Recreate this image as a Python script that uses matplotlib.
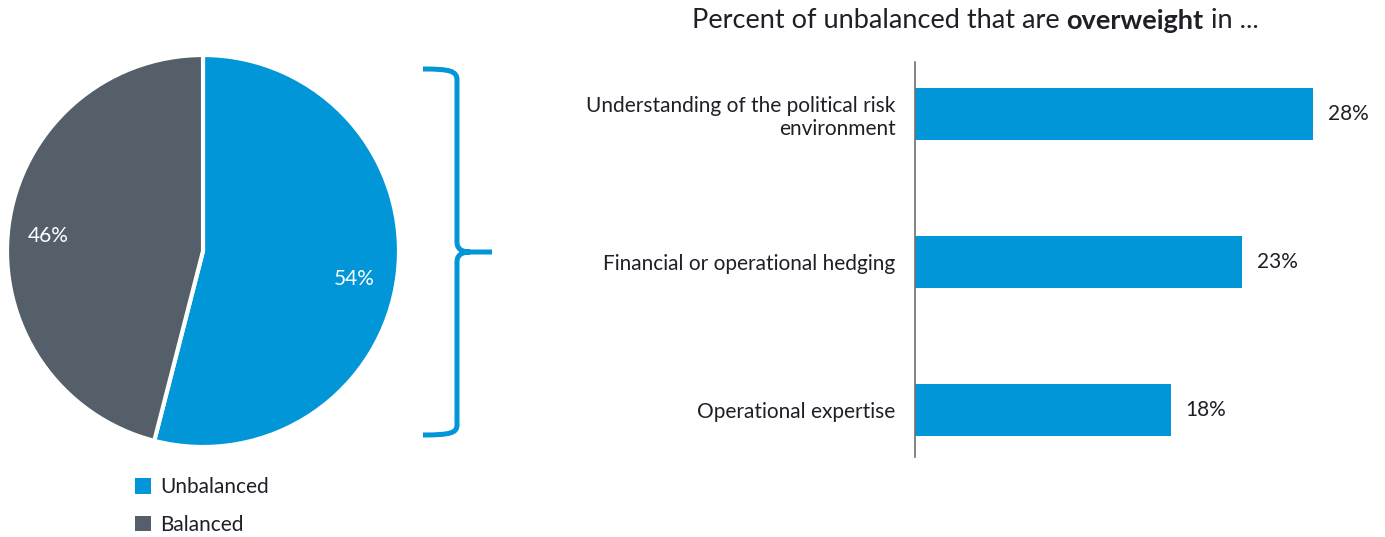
import numpy as np
import matplotlib.pyplot as plt
from matplotlib.path import Path
from matplotlib.patches import PathPatch, Patch

plt.rcParams['font.family'] = ['Lato', 'DejaVu Sans']

# pie data
pie_labels = ['Unbalanced', 'Balanced']
pie_values = [54, 46]

# bar data
bar_labels = ['Understanding of the political risk\nenvironment',
              'Financial or operational hedging',
              'Operational expertise']
bar_values = [28, 23, 18]

BLUE = '#0096d7'
GREY = '#555f6a'
TEXT = '#1f1f28'

W, H = 1385, 537
fig = plt.figure(figsize=(W / 100, H / 100), dpi=100)


def px_box(x0, y0, x1, y1):
    # pixel box (top-left origin) -> figure fraction rect
    return [x0 / W, 1 - y1 / H, (x1 - x0) / W, (y1 - y0) / H]


# ---- pie ----
ax_pie = fig.add_axes(px_box(7, 55, 399, 447))
wedges, _, autotexts = ax_pie.pie(
    pie_values, colors=[BLUE, GREY], startangle=90, counterclock=False,
    autopct='%d%%', pctdistance=0.78,
    wedgeprops=dict(edgecolor='white', linewidth=3),
    textprops=dict(color='white', fontsize=15))
ax_pie.set_xlim(-1.0, 1.0)
ax_pie.set_ylim(-1.0, 1.0)
ax_pie.set_aspect('equal')
for w in wedges:
    w.set_clip_on(False)
autotexts[0].set_position((0.77, -0.145))
autotexts[1].set_position((-0.79, 0.075))

handles = [Patch(facecolor=c, edgecolor='none') for c in [BLUE, GREY]]
fig.legend(handles, pie_labels, loc='upper left',
           bbox_to_anchor=(135 / W, 1 - 477 / H), frameon=False,
           borderpad=0, borderaxespad=0,
           handlelength=0.78, handleheight=0.78, handletextpad=0.45,
           labelspacing=0.85, fontsize=15, labelcolor=TEXT)

# ---- brace ----
ax_bg = fig.add_axes([0, 0, 1, 1], zorder=-1)
ax_bg.set_xlim(0, W)
ax_bg.set_ylim(H, 0)
ax_bg.axis('off')
verts = [(423, 69), (450, 69), (457, 71), (457, 80),
         (457, 242),
         (457, 249), (462, 252), (470, 252),
         (492, 252), (470, 252),
         (462, 252), (457, 255), (457, 262),
         (457, 425),
         (457, 433), (450, 435), (423, 435)]
codes = [Path.MOVETO, Path.CURVE4, Path.CURVE4, Path.CURVE4,
         Path.LINETO,
         Path.CURVE4, Path.CURVE4, Path.CURVE4,
         Path.LINETO, Path.MOVETO,
         Path.CURVE4, Path.CURVE4, Path.CURVE4,
         Path.LINETO,
         Path.CURVE4, Path.CURVE4, Path.CURVE4]
ax_bg.add_patch(PathPatch(Path(verts, codes), facecolor='none',
                          edgecolor=BLUE, linewidth=3.6, capstyle='butt'))

# ---- bars ----
ax_bar = fig.add_axes(px_box(915, 62, 1385, 457))
ypos = np.arange(len(bar_values))
ax_bar.barh(ypos, bar_values, height=0.351, color=BLUE)
ax_bar.set_xlim(0, 470 / 14.2)
ax_bar.set_ylim(2.318, -0.351)
for s in ['top', 'right', 'bottom']:
    ax_bar.spines[s].set_visible(False)
ax_bar.spines['left'].set_color('#707070')
ax_bar.spines['left'].set_linewidth(1.2)
ax_bar.set_xticks([])
ax_bar.set_yticks(ypos)
ax_bar.set_yticklabels(bar_labels, fontsize=15, color=TEXT)
ax_bar.tick_params(axis='y', length=0, pad=14)
for y, v in zip(ypos, bar_values):
    ax_bar.annotate(f'{v}%', (v, y), xytext=(15, 0), textcoords='offset pixels',
                    va='center', ha='left', fontsize=15, color=TEXT)

# ---- title with bold word ----
parts = [('Percent of unbalanced that are ', 'normal'),
         ('overweight', 'bold'),
         (' in ...', 'normal')]
fig.canvas.draw()
renderer = fig.canvas.get_renderer()
texts = []
for s, wgt in parts:
    t = fig.text(0, 0, s, fontsize=19.5, fontweight=wgt, color=TEXT,
                 va='center', ha='left')
    texts.append(t)
widths = [t.get_window_extent(renderer).width for t in texts]
x = 975 - sum(widths) / 2
for t, w in zip(texts, widths):
    t.set_position((x / W, 1 - 21 / H))
    x += w

fig.savefig('out.png', dpi=100)
